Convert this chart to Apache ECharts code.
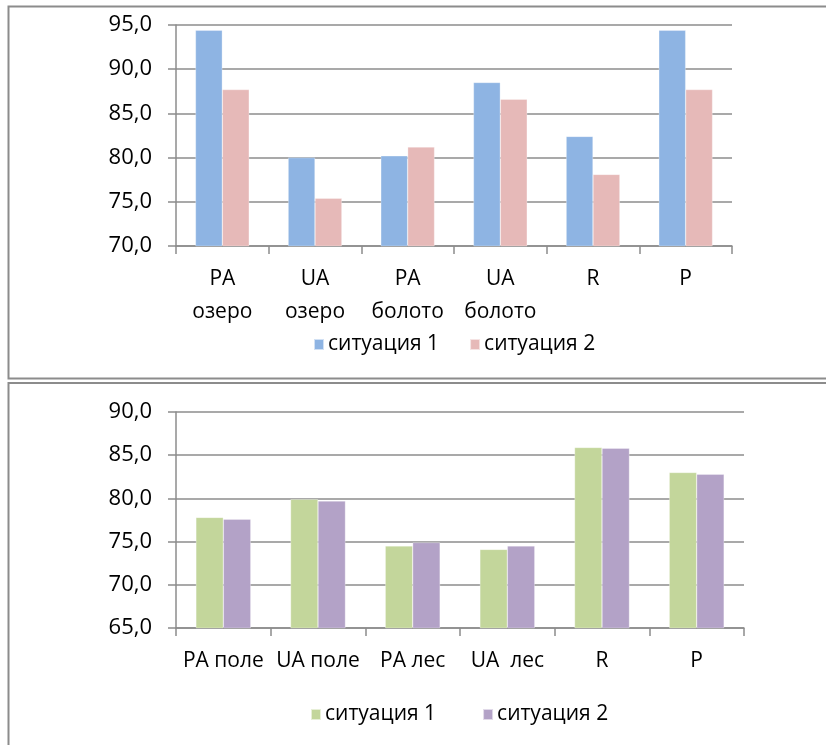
<!DOCTYPE html>
<html>
<head>
<meta charset="utf-8">
<script src="https://cdn.jsdelivr.net/npm/echarts@6/dist/echarts.min.js"></script>
<style>
html,body{margin:0;padding:0;background:#fff;}
#c{width:826px;height:745px;}
</style>
</head>
<body>
<div id="c"></div>
<script>
// Top chart
const topCategories = ['PA\nозеро', 'UA\nозеро', 'PA\nболото', 'UA\nболото', 'R', 'P'];
const topSit1 = [94.4, 80.0, 80.2, 88.5, 82.4, 94.4];
const topSit2 = [87.7, 75.4, 81.2, 86.6, 78.1, 87.7];
const topYTicks = [70, 95, 5];
// Bottom chart
const botCategories = ['PA поле', 'UA поле', 'PA лес', 'UA  лес', 'R', 'P'];
const botSit1 = [77.8, 79.9, 74.5, 74.1, 85.9, 83.0];
const botSit2 = [77.6, 79.7, 74.9, 74.5, 85.8, 82.8];
const botYTicks = [65, 90, 5];
const seriesNames = ['ситуация 1', 'ситуация 2'];

const FONT = '"Open Sans", "Noto Sans", sans-serif';
const GRID = '#8c8c8c';
const colors = {top: ['#8EB4E3', '#E6B9B8'], bot: ['#C3D69B', '#B3A2C7']};

const fmt = v => v.toFixed(1).replace('.', ',');

function yAxis(idx, t) {
  return {
    type: 'value', gridIndex: idx, min: t[0], max: t[1], interval: t[2],
    axisLine: {show: true, lineStyle: {color: GRID, width: 1.5}},
    axisTick: {show: true, length: 8, lineStyle: {color: GRID, width: 1.5}},
    splitLine: {show: true, lineStyle: {color: GRID, width: 1.5}},
    axisLabel: {formatter: fmt, color: '#000', fontSize: 22, fontFamily: FONT, margin: 24}
  };
}
function xAxis(idx, cats) {
  return {
    type: 'category', gridIndex: idx, data: cats,
    axisLine: {show: true, lineStyle: {color: GRID, width: 1.5}},
    axisTick: {show: true, length: 8, lineStyle: {color: GRID, width: 1.5}},
    axisLabel: {interval: 0, color: '#000', fontSize: 21, fontFamily: FONT, margin: 17, lineHeight: 33}
  };
}
function bars(idx, name, data, color) {
  return {
    type: 'bar', name: name, xAxisIndex: idx, yAxisIndex: idx, data: data,
    barGap: '0%', barCategoryGap: '42%',
    itemStyle: {color: color, borderColor: 'rgba(255,255,255,0.6)', borderWidth: 0.5},
    emphasis: {disabled: true}
  };
}
function legend(left, top, gap, cols) {
  return {
    left: left, top: top, itemGap: gap, itemWidth: 10, itemHeight: 11, icon: 'rect',
    selectedMode: false,
    textStyle: {color: '#000', fontSize: 21, fontFamily: FONT, padding: [0, 0, 0, -1]},
    data: seriesNames.map((n, i) => ({name: n, itemStyle: {color: cols[i]}}))
  };
}

const chart = echarts.init(document.getElementById('c'), null, {renderer: 'canvas'});
chart.setOption({
  animation: false,
  backgroundColor: '#fff',
  graphic: [
    {type: 'rect', shape: {x: 8.5, y: 6.5, width: 830, height: 372}, style: {fill: 'none', stroke: GRID, lineWidth: 2}, z: -1},
    {type: 'rect', shape: {x: 8.5, y: 383, width: 830, height: 380}, style: {fill: 'none', stroke: GRID, lineWidth: 2}, z: -1}
  ],
  grid: [
    {left: 176, right: 94, top: 25, height: 221},
    {left: 176, right: 82, top: 412, height: 216}
  ],
  xAxis: [xAxis(0, topCategories), xAxis(1, botCategories)],
  yAxis: [yAxis(0, topYTicks), yAxis(1, botYTicks)],
  legend: [legend(308, 329, 30, colors.top), legend(305, 699, 46, colors.bot)],
  series: [
    bars(0, seriesNames[0], topSit1, colors.top[0]),
    bars(0, seriesNames[1], topSit2, colors.top[1]),
    bars(1, seriesNames[0], botSit1, colors.bot[0]),
    bars(1, seriesNames[1], botSit2, colors.bot[1])
  ]
});
</script>
</body>
</html>
